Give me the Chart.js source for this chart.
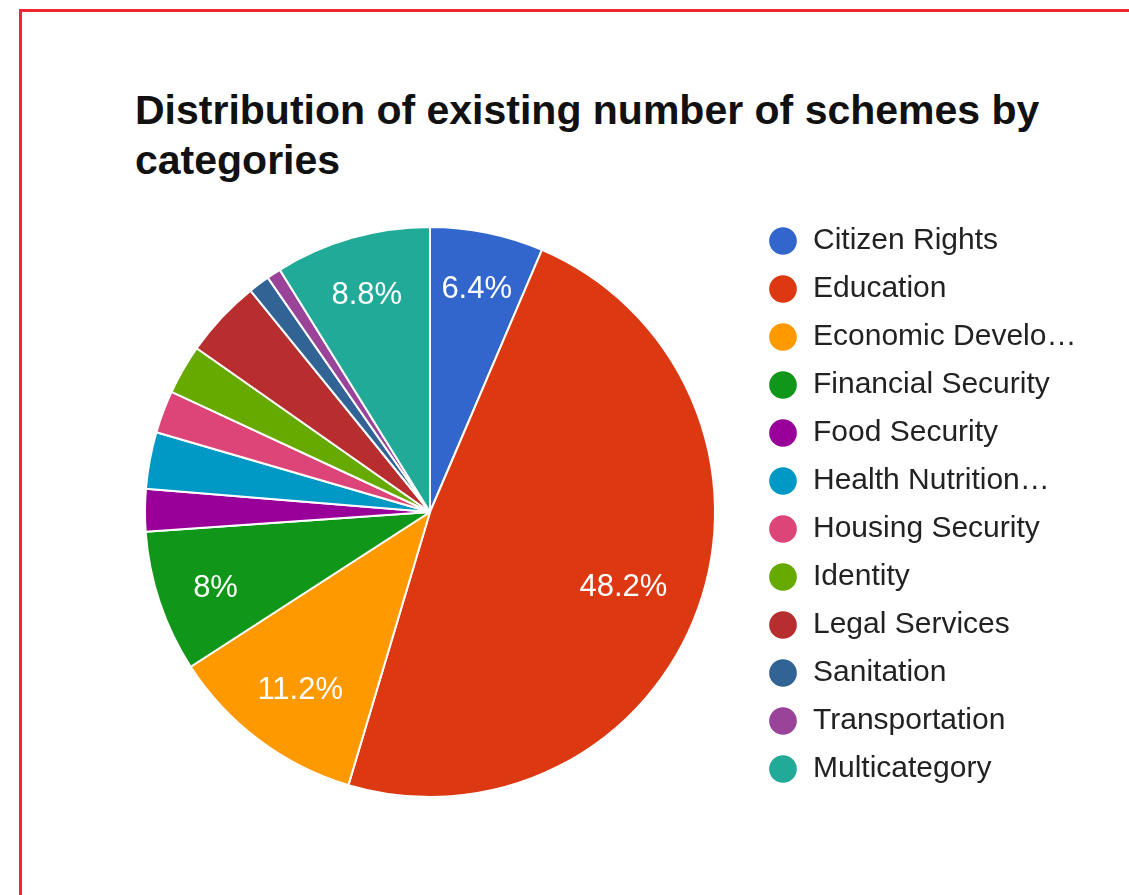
<!DOCTYPE html>
<html>
<head>
<meta charset="utf-8">
<script src="https://cdn.jsdelivr.net/npm/chart.js@4.4.0/dist/chart.umd.min.js"></script>
<style>
  html, body { margin: 0; padding: 0; background: #fff; overflow: hidden; }
  #page { position: relative; width: 1129px; height: 895px; }
  #frame {
    position: absolute; left: 19px; top: 9px; right: -20px; bottom: -20px;
    border-left: 3px solid #f0262c; border-top: 3px solid #f0262c;
  }
  #chartTitle {
    position: absolute; left: 135px; top: 85px;
    font: bold 41px Arial, "Liberation Sans", sans-serif; line-height: 50px;
    color: #111; white-space: nowrap;
  }
  #schemeChart { position: absolute; left: 0; top: 0; }
</style>
</head>
<body>
<div id="page">
  <div id="frame"></div>
  <div id="chartTitle">Distribution of existing number of schemes by<br>categories</div>
  <canvas id="schemeChart" width="1129" height="895"></canvas>
</div>
<script>
// schemes per category
const categories = [
  'Citizen Rights', 'Education', 'Economic Develo\u2026', 'Financial Security',
  'Food Security', 'Health Nutrition\u2026', 'Housing Security', 'Identity',
  'Legal Services', 'Sanitation', 'Transportation', 'Multicategory'
];
const schemeCounts = [16, 120, 28, 20, 6, 8, 6, 7, 11, 3, 2, 22];
const sliceColors = [
  '#3366cc', '#dc3912', '#ff9900', '#109618', '#990099', '#0099c6',
  '#dd4477', '#66aa00', '#b82e2e', '#316395', '#994499', '#22aa99'
];

const fontFamily = 'Arial, "Liberation Sans", sans-serif';
const legendFontSize = 30;
const legendPadding = 18;
const legendLeft = 760;

// work out right padding so the legend starts near legendLeft
const measure = document.createElement('canvas').getContext('2d');
measure.font = legendFontSize + 'px ' + fontFamily;
let widest = 0;
categories.forEach(c => { widest = Math.max(widest, measure.measureText(c).width); });
const legendWidth = legendPadding + legendFontSize + legendFontSize / 2 + widest;
const rightPad = Math.max(0, 1129 - legendLeft - legendWidth);

const total = schemeCounts.reduce((a, b) => a + b, 0);

function pctText(v) {
  const p = Math.round(v / total * 1000) / 10;
  return (p % 1 === 0 ? p.toFixed(0) : p.toFixed(1)) + '%';
}

// white percentage labels on the larger slices
const sliceLabels = {
  id: 'sliceLabels',
  afterDatasetsDraw(chart) {
    const ctx = chart.ctx;
    const meta = chart.getDatasetMeta(0);
    ctx.save();
    ctx.font = '31px ' + fontFamily;
    ctx.fillStyle = '#ffffff';
    ctx.textAlign = 'center';
    ctx.textBaseline = 'alphabetic';
    meta.data.forEach((arc, i) => {
      const v = schemeCounts[i];
      if (v / total < 0.05) return;
      const p = arc.getProps(['x', 'y', 'startAngle', 'endAngle', 'outerRadius'], true);
      const mid = (p.startAngle + p.endAngle) / 2;
      const txt = pctText(v);
      const w = ctx.measureText(txt).width;
      const h = 22;
      const cos = Math.cos(mid), sin = Math.sin(mid);
      const dist = p.outerRadius * 0.88 - (w / 2 * Math.abs(cos) + h / 2 * Math.abs(sin));
      ctx.fillText(txt, p.x + cos * dist, p.y + sin * dist + 14);
    });
    ctx.restore();
  }
};

const ctx = document.getElementById('schemeChart').getContext('2d');
const chart = new Chart(ctx, {
  type: 'pie',
  data: {
    labels: categories,
    datasets: [{
      data: schemeCounts,
      backgroundColor: sliceColors,
      borderColor: '#ffffff',
      borderWidth: 2,
      hoverOffset: 0,
      radius: 285
    }]
  },
  options: {
    responsive: false,
    animation: false,
    devicePixelRatio: 1,
    layout: {
      padding: { left: 110, top: 208, bottom: 79, right: rightPad }
    },
    plugins: {
      title: { display: false },
      tooltip: { enabled: false },
      legend: {
        position: 'right',
        align: 'start',
        fullSize: false,
        labels: {
          usePointStyle: true,
          pointStyle: 'circle',
          boxWidth: legendFontSize,
          boxHeight: 21,
          padding: legendPadding,
          color: '#222',
          font: { family: fontFamily, size: legendFontSize }
        }
      }
    }
  },
  plugins: [sliceLabels]
});
</script>
</body>
</html>
